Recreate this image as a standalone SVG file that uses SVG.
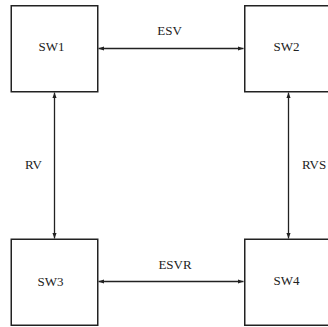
<svg xmlns="http://www.w3.org/2000/svg" width="328" height="327" viewBox="0 0 328 327">
  <style>
    .box { fill: #ffffff; stroke: #222222; stroke-width: 1.5; }
    .lbl { font-family: "Liberation Serif", "DejaVu Serif", serif; font-size: 13px; fill: #222222; text-anchor: middle; }
    .link { stroke: #222222; stroke-width: 1.3; fill: none; marker-start: url(#tip); marker-end: url(#tip); }
  </style>
  <defs>
    <marker id="tip" viewBox="0 0 8 6" refX="8" refY="3" markerWidth="5.5" markerHeight="4.2" markerUnits="userSpaceOnUse" orient="auto-start-reverse">
      <path d="M0,0 L8,3 L0,6 Z" fill="#222222"/>
    </marker>
  </defs>
  <rect width="328" height="327" fill="#ffffff"/>

  <g id="connectors">
    <line class="link" x1="98.5" y1="48.5" x2="243.5" y2="48.5"/>
    <text class="lbl" x="169.5" y="35">ESV</text>
    <line class="link" x1="98.5" y1="281.5" x2="243.5" y2="281.5"/>
    <text class="lbl" x="175" y="268.5">ESVR</text>
    <line class="link" x1="54.5" y1="92.5" x2="54.5" y2="238.5"/>
    <text class="lbl" x="33.5" y="169">RV</text>
    <line class="link" x1="288.5" y1="92.5" x2="288.5" y2="238.5"/>
    <text class="lbl" x="314" y="169">RVS</text>
  </g>

  <g id="sw1">
    <rect class="box" x="11.25" y="5.75" width="86.5" height="86"/>
    <text class="lbl" x="51.5" y="51">SW1</text>
  </g>
  <g id="sw2">
    <rect class="box" x="244.75" y="5.75" width="86.5" height="86"/>
    <text class="lbl" x="286.5" y="51">SW2</text>
  </g>
  <g id="sw3">
    <rect class="box" x="11.25" y="239.25" width="86.5" height="86"/>
    <text class="lbl" x="50.5" y="285.5">SW3</text>
  </g>
  <g id="sw4">
    <rect class="box" x="244.75" y="239.25" width="86.5" height="86"/>
    <text class="lbl" x="286.5" y="285">SW4</text>
  </g>
</svg>
